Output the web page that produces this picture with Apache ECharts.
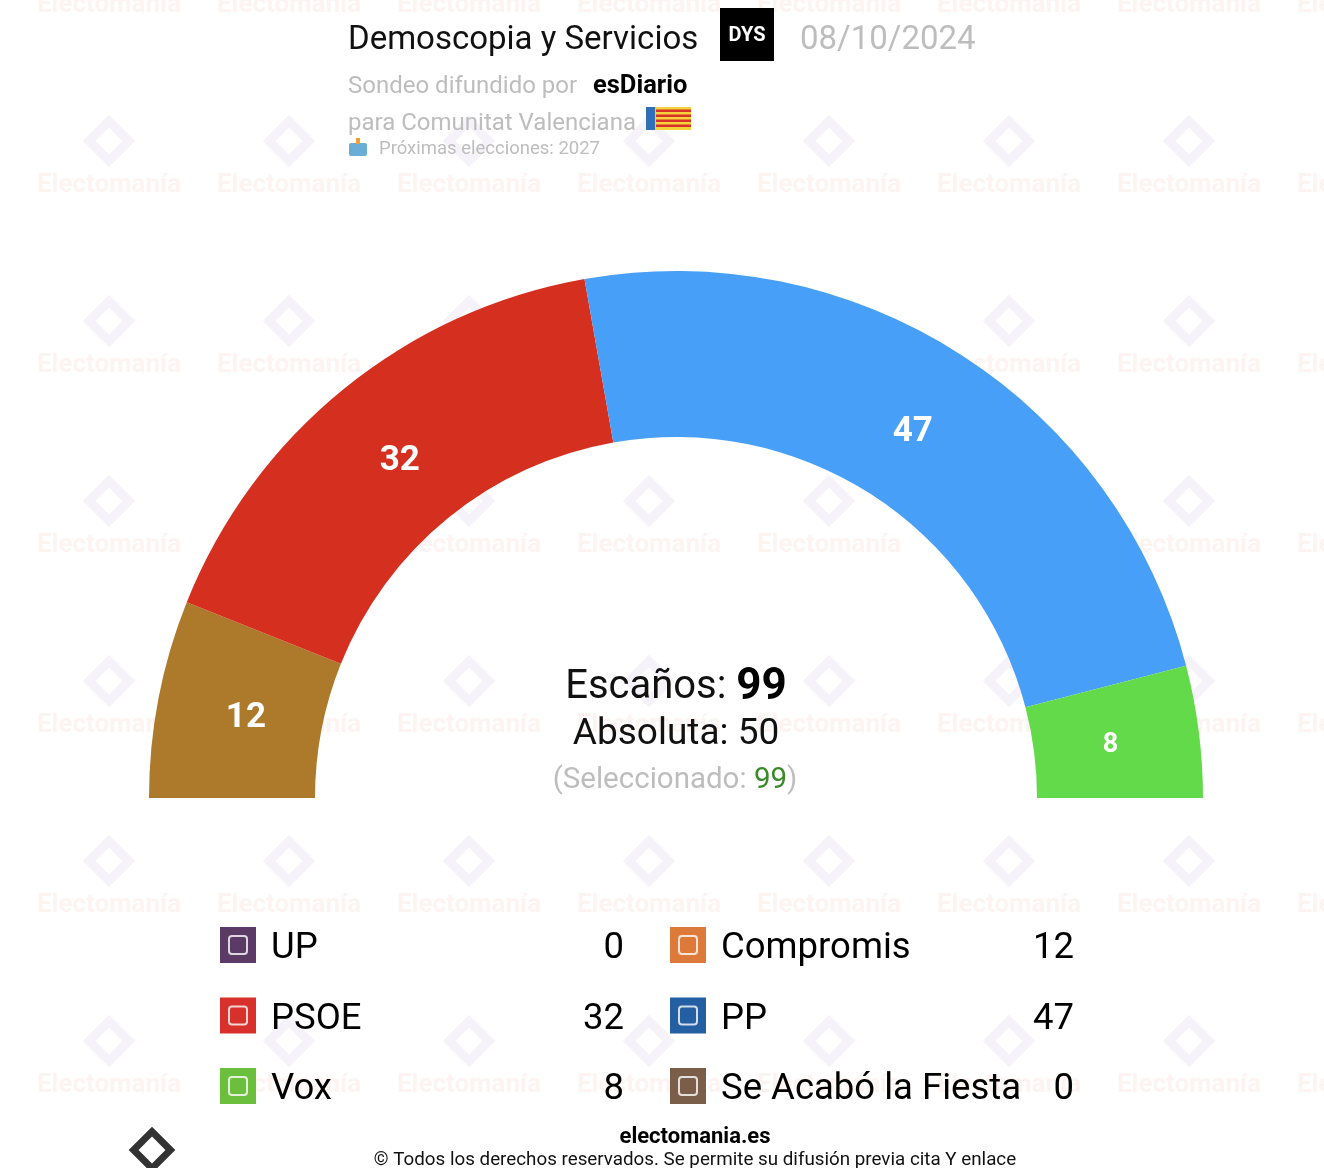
<!DOCTYPE html>
<html>
<head>
<meta charset="utf-8">
<script src="https://cdn.jsdelivr.net/npm/echarts@6/dist/echarts.min.js"></script>
<style>
  html, body { margin: 0; padding: 0; background: #fff; }
  #chart { width: 1324px; height: 1168px; }
</style>
</head>
<body>
<div id="chart"></div>
<script>
// Seat projection, Comunitat Valenciana (DYS for esDiario, 08/10/2024)
var arcParties = ["Compromis", "PSOE", "PP", "Vox"];
var arcSeats = [12, 32, 47, 8];
var arcColors = ["#ad792b", "#d52f20", "#479ff8", "#62da49"];

var legendParties = ["UP", "PSOE", "Vox", "Compromis", "PP", "Se Acabó la Fiesta"];
var legendSeats = [0, 32, 8, 12, 47, 0];
var legendColors = ["#5b3a66", "#d8302a", "#6cbf3c", "#dd7a3a", "#245ea3", "#7a5e4a"];

var totalSeats = 99;
var majority = 50;
var selected = 99;

var dom = document.getElementById("chart");
var myChart = echarts.init(dom);

var font = "Roboto";
var graphics = [];

// faint watermark tiles
for (var row = 0; row < 7; row++) {
  for (var col = 0; col < 8; col++) {
    var cx = 109 + col * 180;
    var cy = 3 + row * 180;
    graphics.push({
      type: "text",
      z: -10,
      x: cx,
      y: cy + 2,
      style: {
        text: "Electomanía",
        font: "bold 26px " + font,
        fill: "rgba(235,130,110,0.09)",
        textAlign: "center",
        textVerticalAlign: "middle",
      },
    });
    graphics.push({
      type: "rect",
      z: -10,
      x: cx,
      y: cy - 42,
      rotation: Math.PI / 4,
      shape: { x: -14, y: -14, width: 28, height: 28 },
      style: { fill: "none", stroke: "rgba(150,110,190,0.09)", lineWidth: 9 },
    });
  }
}

// header
graphics.push(
  {
    type: "text",
    x: 348,
    y: 41,
    style: { text: "Demoscopia y Servicios", font: "33px " + font, fill: "#111", textVerticalAlign: "middle" },
  },
  {
    type: "rect",
    shape: { x: 720, y: 8, width: 54, height: 53 },
    style: { fill: "#000" },
  },
  {
    type: "text",
    x: 747,
    y: 36,
    style: { text: "DYS", font: "bold 20px " + font, fill: "#fff", textAlign: "center", textVerticalAlign: "middle" },
  },
  {
    type: "text",
    x: 800,
    y: 41,
    style: { text: "08/10/2024", font: "33px " + font, fill: "#bdbdbd", textVerticalAlign: "middle" },
  },
  {
    type: "text",
    x: 348,
    y: 87,
    style: { text: "Sondeo difundido por", font: "24px " + font, fill: "#bdbdbd", textVerticalAlign: "middle" },
  },
  {
    type: "text",
    x: 593,
    y: 87,
    style: { text: "esDiario", font: "bold 25.5px " + font, fill: "#000", textVerticalAlign: "middle" },
  },
  {
    type: "text",
    x: 348,
    y: 124,
    style: { text: "para Comunitat Valenciana", font: "24px " + font, fill: "#bdbdbd", textVerticalAlign: "middle" },
  },
  {
    type: "text",
    x: 379,
    y: 149,
    style: { text: "Próximas elecciones: 2027", font: "18.5px " + font, fill: "#bdbdbd", textVerticalAlign: "middle" },
  }
);

// flag of the Comunitat Valenciana
graphics.push({
  type: "rect",
  shape: { x: 646, y: 107, width: 45, height: 23 },
  style: { fill: "#f4d23a" },
});
for (var s = 0; s < 4; s++) {
  graphics.push({
    type: "rect",
    shape: { x: 656, y: 109.5 + s * 5, width: 35, height: 2.5 },
    style: { fill: "#d8302a" },
  });
}
graphics.push({
  type: "rect",
  shape: { x: 646, y: 107, width: 9, height: 23 },
  style: { fill: "#2e6fb8" },
});

// ballot box icon
graphics.push(
  {
    type: "rect",
    shape: { x: 349, y: 143, width: 18, height: 13, r: 2 },
    style: { fill: "#6aaed6" },
  },
  {
    type: "rect",
    shape: { x: 356, y: 138, width: 4, height: 6 },
    style: { fill: "#f0a030" },
  }
);

// centre labels
graphics.push(
  {
    type: "text",
    x: 676,
    y: 688,
    style: {
      text: "{a|Escaños: }{b|" + totalSeats + "}",
      textAlign: "center",
      textVerticalAlign: "middle",
      rich: {
        a: { font: "40px " + font, fill: "#111" },
        b: { font: "bold 44px " + font, fill: "#000" },
      },
    },
  },
  {
    type: "text",
    x: 676,
    y: 735,
    style: { text: "Absoluta: " + majority, font: "37px " + font, fill: "#111", textAlign: "center", textVerticalAlign: "middle" },
  },
  {
    type: "text",
    x: 675,
    y: 781,
    style: {
      text: "{a|(Seleccionado: }{b|" + selected + "}{a|)}",
      textAlign: "center",
      textVerticalAlign: "middle",
      rich: {
        a: { font: "29.5px " + font, fill: "#bdbdbd" },
        b: { font: "29.5px " + font, fill: "#3a8a2a" },
      },
    },
  }
);

// party table
for (var i = 0; i < legendParties.length; i++) {
  var colIdx = Math.floor(i / 3);
  var rowIdx = i % 3;
  var x0 = 220 + colIdx * 450;
  var yc = 945 + rowIdx * 70.5;
  graphics.push(
    {
      type: "rect",
      shape: { x: x0, y: yc - 18, width: 36, height: 36 },
      style: { fill: legendColors[i] },
    },
    {
      type: "rect",
      shape: { x: x0 + 9, y: yc - 9, width: 18, height: 18, r: 3 },
      style: { fill: "none", stroke: "rgba(255,255,255,0.8)", lineWidth: 2 },
    },
    {
      type: "text",
      x: x0 + 51,
      y: yc + 4,
      style: {
        text: legendParties[i],
        font: "36.5px " + font,
        fill: "#000",
        textVerticalAlign: "middle",
      },
    },
    {
      type: "text",
      x: x0 + 404,
      y: yc + 4,
      style: {
        text: String(legendSeats[i]),
        font: "36.5px " + font,
        fill: "#000",
        textAlign: "right",
        textVerticalAlign: "middle",
      },
    }
  );
}

// footer
graphics.push(
  {
    type: "text",
    x: 695,
    y: 1137,
    style: {
      text: "electomania.es",
      font: "bold 22px " + font,
      fill: "#000",
      textAlign: "center",
      textVerticalAlign: "middle",
    },
  },
  {
    type: "text",
    x: 695,
    y: 1160,
    style: {
      text: "© Todos los derechos reservados. Se permite su difusión previa cita Y enlace",
      font: "18.8px " + font,
      fill: "#111",
      textAlign: "center",
      textVerticalAlign: "middle",
    },
  },
  {
    type: "rect",
    x: 152,
    y: 1150,
    rotation: Math.PI / 4,
    shape: { x: -13, y: -13, width: 26, height: 26 },
    style: { fill: "none", stroke: "#333", lineWidth: 7 },
  }
);

var pieData = arcParties.map(function (name, idx) {
  return {
    name: name,
    value: arcSeats[idx],
    itemStyle: { color: arcColors[idx] },
  };
});

var option;
option = {
  backgroundColor: "#fff",
  animation: false,
  textStyle: { fontFamily: font },
  graphic: graphics,
  series: [
    {
      name: "Escaños",
      type: "pie",
      center: [676, 798],
      radius: [361, 527],
      startAngle: 180,
      endAngle: 0,
      clockwise: true,
      label: { show: false },
      labelLine: { show: false },
      itemStyle: { borderWidth: 0 },
      emphasis: { disabled: true },
      data: pieData,
    },
    {
      // label ring: same data, transparent, to put the numbers on a slightly smaller radius
      name: "labels",
      type: "pie",
      center: [676, 801],
      radius: [361, 509],
      startAngle: 180,
      endAngle: 0,
      clockwise: true,
      silent: true,
      avoidLabelOverlap: false,
      itemStyle: { color: "transparent", borderWidth: 0 },
      labelLine: { show: false },
      label: {
        show: true,
        position: "inside",
        formatter: "{c}",
        color: "#fff",
        fontWeight: "bold",
        fontSize: 35,
        fontFamily: font,
      },
      emphasis: { disabled: true },
      data: arcSeats.map(function (v, idx) {
        var item = { name: arcParties[idx], value: v };
        if (v < 10) item.label = { fontSize: 27 };
        return item;
      }),
    },
  ],
};

if (option && typeof option === "object") {
  myChart.setOption(option);
}
</script>
</body>
</html>
